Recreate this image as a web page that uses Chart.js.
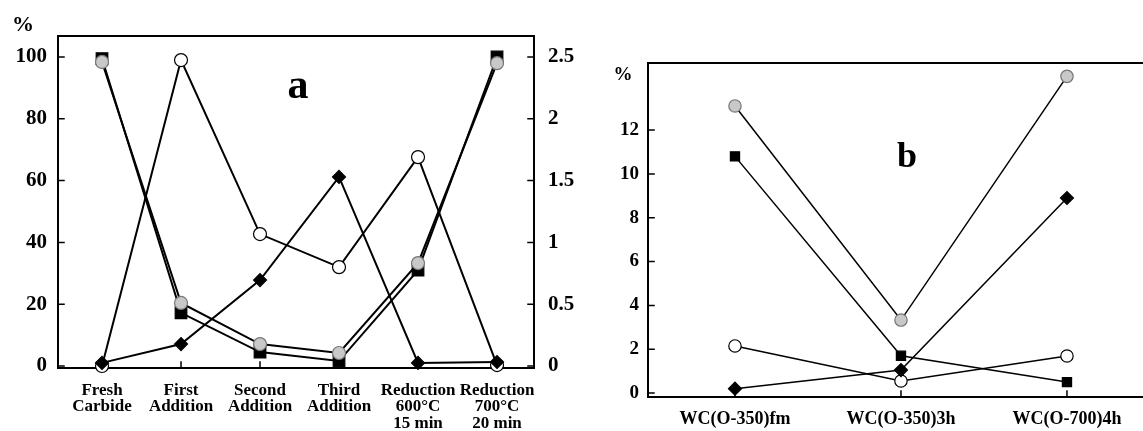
<!DOCTYPE html>
<html>
<head>
<meta charset="utf-8">
<script src="https://cdn.jsdelivr.net/npm/chart.js@4"></script>
<style>
  html,body{margin:0;padding:0;background:#fff;}
  #wrap{position:relative;width:1143px;height:431px;overflow:hidden;background:#fff;}
  canvas{position:absolute;top:0;}
  .lbl{position:absolute;font-family:"Liberation Serif",serif;font-weight:bold;color:#000;transform:translate(-50%,-50%);white-space:nowrap;line-height:1;}
</style>
</head>
<body>
<div id="wrap">
  <canvas id="ca" width="600" height="431" style="left:0"></canvas>
  <canvas id="cb" width="543" height="431" style="left:600px"></canvas>
  <div class="lbl" style="left:23px;top:24px;font-size:22px">%</div>
  <div class="lbl" style="left:298px;top:84px;font-size:42px">a</div>
  <div class="lbl" style="left:623px;top:73px;font-size:19px">%</div>
  <div class="lbl" style="left:907px;top:155px;font-size:36px">b</div>
</div>
<script>
// ---- Panel a data ----
const CATS_A = [["Fresh","Carbide"],["First","Addition"],["Second","Addition"],["Third","Addition"],["Reduction","600°C","15 min"],["Reduction","700°C","20 min"]];
const A_SQUARE  = [99.5, 17.2, 4.5, 1.6, 31.0, 100];
const A_GRAY    = [98.4, 20.4, 7.1, 4.2, 33.3, 98.0];
const A_WHITE   = [0.0, 99.0, 42.7, 32.0, 67.6, 0.3];
const A_DIAMOND = [1.0, 7.1, 27.8, 61.2, 1.0, 1.3];
const A_LEFT_TICKS  = [0, 20, 40, 60, 80, 100];
const A_RIGHT_TICKS = [0, 0.5, 1, 1.5, 2, 2.5];

// ---- Panel b data ----
const CATS_B = ["WC(O-350)fm","WC(O-350)3h","WC(O-700)4h"];
const B_GRAY    = [13.1, 3.33, 14.45];
const B_SQUARE  = [10.8, 1.7, 0.5];
const B_WHITE   = [2.15, 0.55, 1.69];
const B_DIAMOND = [0.2, 1.05, 8.9];
const B_TICKS   = [0, 2, 4, 6, 8, 10, 12];

const FONT = "'Liberation Serif', 'Times New Roman', serif";
const toXY = arr => arr.map((v,i)=>({x:i,y:v}));
const noPad = s => { s.paddingLeft=0; s.paddingRight=0; s.paddingTop=0; s.paddingBottom=0; };

function boxPlugin(sides, lw){
  return {
    id:'box',
    beforeDatasetsDraw(chart){
      const {ctx, chartArea:a} = chart;
      ctx.save();
      ctx.strokeStyle='#000'; ctx.lineWidth=lw; ctx.lineCap='square';
      ctx.beginPath();
      if(sides.includes('l')){ctx.moveTo(a.left,a.top);ctx.lineTo(a.left,a.bottom);}
      if(sides.includes('b')){ctx.moveTo(a.left,a.bottom);ctx.lineTo(a.right,a.bottom);}
      if(sides.includes('t')){ctx.moveTo(a.left,a.top);ctx.lineTo(a.right,a.top);}
      if(sides.includes('r')){ctx.moveTo(a.right,a.top);ctx.lineTo(a.right,a.bottom);}
      ctx.stroke();
      // inward tick marks
      ctx.lineWidth=1.5;
      ctx.beginPath();
      Object.values(chart.scales).forEach(s=>{
        s.ticks.forEach(t=>{
          const p = s.getPixelForValue(t.value);
          if(s.axis==='x'){ctx.moveTo(p,a.bottom);ctx.lineTo(p,a.bottom-6);}
          else if(s.position==='left'){ctx.moveTo(a.left,p);ctx.lineTo(a.left+6,p);}
          else {ctx.moveTo(a.right,p);ctx.lineTo(a.right-6,p);}
        });
      });
      ctx.stroke();
      ctx.restore();
    }
  };
}

function ds(label, data, style, lw, scaleR){
  const base = {label, data, borderColor:'#000', borderWidth:lw, clip:false, tension:0,
    pointBorderWidth:1.2, pointHoverRadius:0};
  if(style==='square') return Object.assign(base,{pointStyle:'rect',pointRadius:scaleR.sq,pointBackgroundColor:'#000',pointBorderColor:'#000'});
  if(style==='gray') return Object.assign(base,{pointStyle:'circle',pointRadius:scaleR.c,pointBackgroundColor:'#c8c8c8',pointBorderColor:'#777'});
  if(style==='white') return Object.assign(base,{pointStyle:'circle',pointRadius:scaleR.c,pointBackgroundColor:'#fff',pointBorderColor:'#000'});
  return Object.assign(base,{pointStyle:'rectRot',pointRadius:scaleR.d,pointBackgroundColor:'#000',pointBorderColor:'#000'});
}

// ---- Chart a ----
const A_MIN = -0.65, A_MAX = 106.8;
const RA = {sq:8.2, c:6.5, d:6.5};
new Chart(document.getElementById('ca'), {
  type:'line',
  data:{datasets:[
    ds('diamond', toXY(A_DIAMOND), 'diamond', 2, RA),
    ds('gray', toXY(A_GRAY), 'gray', 2, RA),
    ds('square', toXY(A_SQUARE), 'square', 2, RA),
    ds('white', toXY(A_WHITE), 'white', 2, RA)
  ]},
  options:{
    responsive:false, animation:false, devicePixelRatio:1,
    layout:{autoPadding:false, padding:{top:36,left:0,right:0,bottom:0}},
    plugins:{legend:{display:false},tooltip:{enabled:false}},
    scales:{
      x:{type:'linear', min:-0.557, max:5.468,
        afterBuildTicks:s=>{s.ticks = CATS_A.map((_,i)=>({value:i}));},
        afterFit:s=>{s.height=63; noPad(s);},
        grid:{display:false,drawTicks:false}, border:{display:false},
        ticks:{autoSkip:false,maxRotation:0,padding:14,color:'#000',
          font:{family:FONT,size:17,weight:'bold',lineHeight:0.97},
          callback:v=>CATS_A[v]}},
      y:{type:'linear', position:'left', min:A_MIN, max:A_MAX,
        afterBuildTicks:s=>{s.ticks = A_LEFT_TICKS.map(v=>({value:v}));},
        afterFit:s=>{s.width=58; noPad(s);},
        grid:{display:false,drawTicks:false}, border:{display:false},
        ticks:{padding:11,color:'#000',font:{family:FONT,size:21,weight:'bold'},callback:v=>String(v)}},
      y2:{type:'linear', position:'right', min:A_MIN/40, max:A_MAX/40,
        afterBuildTicks:s=>{s.ticks = A_RIGHT_TICKS.map(v=>({value:v}));},
        afterFit:s=>{s.width=66; noPad(s);},
        grid:{display:false,drawTicks:false}, border:{display:false},
        ticks:{padding:14,color:'#000',font:{family:FONT,size:21,weight:'bold'},callback:v=>String(v)}}
    }
  },
  plugins:[boxPlugin('lbtr',2)]
});

// ---- Chart b ----
const B_MIN = -0.18, B_MAX = 15.06;
const RB = {sq:6.5, c:6.2, d:6.5};
new Chart(document.getElementById('cb'), {
  type:'line',
  data:{datasets:[
    ds('diamond', toXY(B_DIAMOND), 'diamond', 1.5, RB),
    ds('gray', toXY(B_GRAY), 'gray', 1.5, RB),
    ds('square', toXY(B_SQUARE), 'square', 1.5, RB),
    ds('white', toXY(B_WHITE), 'white', 1.5, RB)
  ]},
  options:{
    responsive:false, animation:false, devicePixelRatio:1,
    layout:{autoPadding:false, padding:{top:63,left:0,right:0,bottom:0}},
    plugins:{legend:{display:false},tooltip:{enabled:false}},
    scales:{
      x:{type:'linear', min:-0.524, max:2.458,
        afterBuildTicks:s=>{s.ticks = CATS_B.map((_,i)=>({value:i}));},
        afterFit:s=>{s.height=34; noPad(s);},
        grid:{display:false,drawTicks:false}, border:{display:false},
        ticks:{autoSkip:false,maxRotation:0,padding:12,color:'#000',
          font:{family:FONT,size:18,weight:'bold'},
          callback:v=>CATS_B[v]}},
      y:{type:'linear', position:'left', min:B_MIN, max:B_MAX,
        afterBuildTicks:s=>{s.ticks = B_TICKS.map(v=>({value:v}));},
        afterFit:s=>{s.width=48; noPad(s);},
        grid:{display:false,drawTicks:false}, border:{display:false},
        ticks:{padding:9,color:'#000',font:{family:FONT,size:19,weight:'bold'},callback:v=>String(v)}}
    }
  },
  plugins:[boxPlugin('lbt',2)]
});
</script>
</body>
</html>
